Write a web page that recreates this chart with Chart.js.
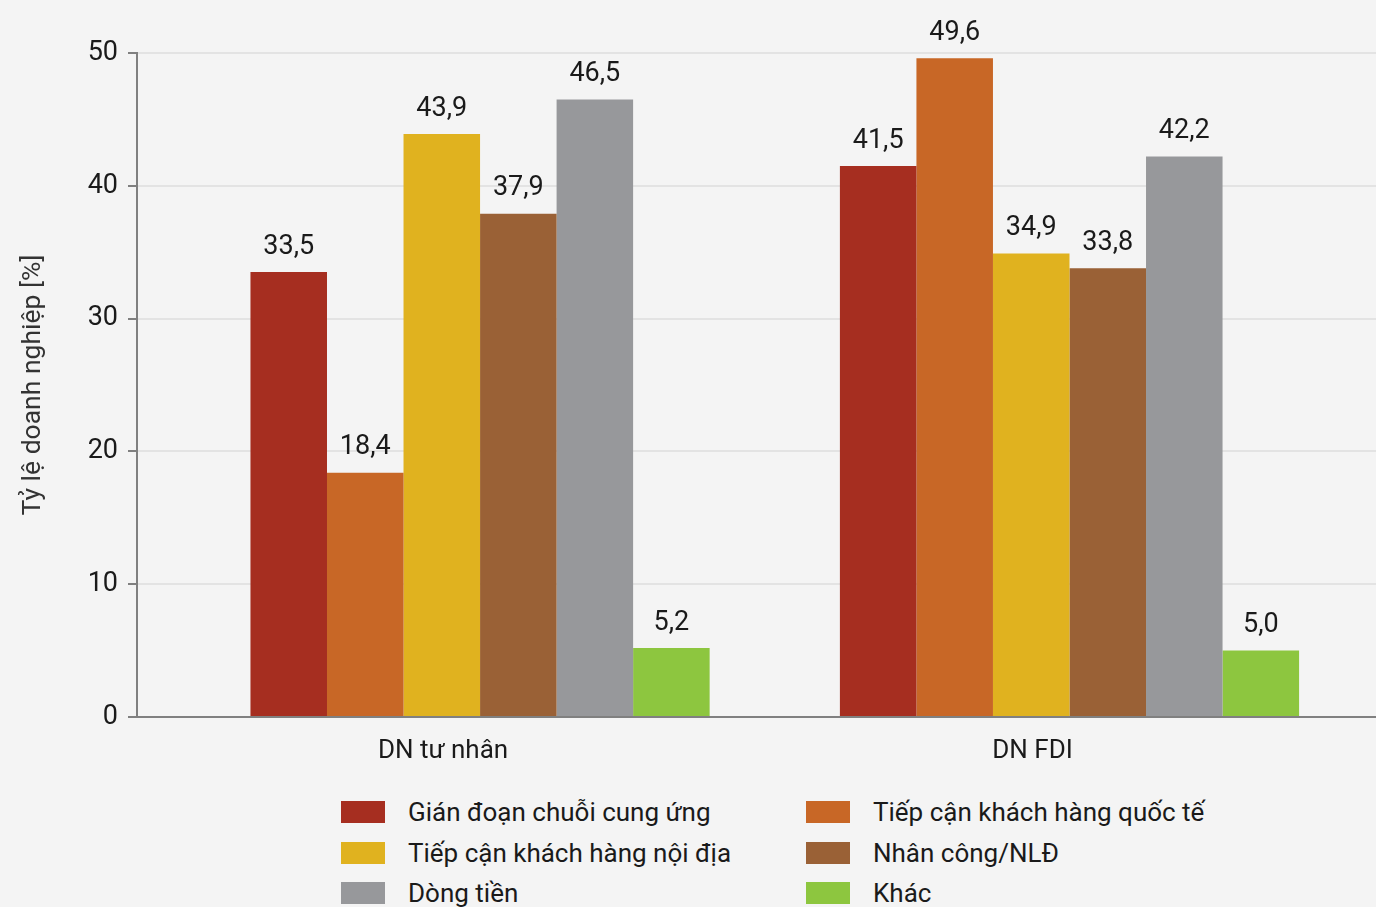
<!DOCTYPE html>
<html lang="vi">
<head>
<meta charset="UTF-8">
<title>Tỷ lệ doanh nghiệp</title>
<script src="https://cdn.jsdelivr.net/npm/chart.js"></script>
<style>
    html, body {
        margin: 0;
        padding: 0;
        background: #f4f4f4;
    }
    body {
        width: 1376px;
        height: 907px;
        overflow: hidden;
        position: relative;
    }
    #wrap {
        position: absolute;
        left: 0;
        top: 0;
        width: 1376px;
        height: 777px;
    }
    #legend {
        position: absolute;
        left: 341px;
        top: 792px;
        display: grid;
        grid-template-columns: 465px 420px;
    }
    .item {
        display: flex;
        align-items: center;
        height: 40.5px;
    }
    .box {
        flex: 0 0 44px;
        height: 22px;
        margin-right: 23px;
    }
    .txt {
        font: 26px Roboto, sans-serif;
        color: #1a1a1a;
        white-space: nowrap;
    }
</style>
</head>
<body>
<div id="wrap"><canvas id="chart"></canvas></div>
<div id="legend"></div>

<script>
    // categories and series (values in %)
    const categories = ['DN tư nhân', 'DN FDI'];
    const seriesNames = [
        'Gián đoạn chuỗi cung ứng',
        'Tiếp cận khách hàng quốc tế',
        'Tiếp cận khách hàng nội địa',
        'Nhân công/NLĐ',
        'Dòng tiền',
        'Khác'
    ];
    const gianDoan = [33.5, 41.5];
    const quocTe = [18.4, 49.6];
    const noiDia = [43.9, 34.9];
    const nhanCong = [37.9, 33.8];
    const dongTien = [46.5, 42.2];
    const khac = [5.2, 5.0];
    const yTicks = [0, 10, 20, 30, 40, 50];

    const seriesValues = [gianDoan, quocTe, noiDia, nhanCong, dongTien, khac];
    const colors = ['#a62e20', '#c86726', '#e0b21f', '#9a6136', '#97989b', '#8dc63f'];

    const fontFamily = 'Roboto, sans-serif';
    const fmt = v => v.toFixed(1).replace('.', ',');

    // value labels above bars
    const valueLabels = {
        id: 'valueLabels',
        afterDatasetsDraw(chart) {
            const ctx = chart.ctx;
            ctx.save();
            ctx.font = '27px ' + fontFamily;
            ctx.fillStyle = '#1a1a1a';
            ctx.textAlign = 'center';
            ctx.textBaseline = 'middle';
            chart.data.datasets.forEach((ds, i) => {
                chart.getDatasetMeta(i).data.forEach((bar, j) => {
                    ctx.fillText(fmt(ds.data[j].y), bar.x, bar.y - 25);
                });
            });
            ctx.restore();
        }
    };

    const datasets = seriesNames.map((name, i) => ({
        label: name,
        data: seriesValues[i].map((v, j) => ({ x: j, y: v })),
        backgroundColor: colors[i],
        borderWidth: 0
    }));

    new Chart(document.getElementById('chart'), {
        type: 'bar',
        data: { datasets },
        options: {
            responsive: true,
            maintainAspectRatio: false,
            animation: false,
            categoryPercentage: 0.779,
            barPercentage: 1,
            layout: { padding: { top: 53, left: 0, right: 0, bottom: 0 } },
            plugins: {
                legend: { display: false },
                tooltip: { enabled: false }
            },
            scales: {
                x: {
                    type: 'linear',
                    offset: false,
                    min: -0.582,
                    max: 1.52,
                    afterBuildTicks: axis => {
                        axis.ticks = categories.map((_, i) => ({ value: i }));
                    },
                    afterFit: axis => { axis.height = 60; },
                    grid: { display: false },
                    border: { display: true, color: '#808080', width: 2 },
                    ticks: {
                        callback: v => categories[v],
                        font: { family: fontFamily, size: 26 },
                        color: '#1a1a1a',
                        padding: 11,
                        labelOffset: -37,
                        autoSkip: false,
                        maxRotation: 0
                    }
                },
                y: {
                    min: 0,
                    max: 50,
                    afterBuildTicks: axis => {
                        axis.ticks = yTicks.map(v => ({ value: v }));
                    },
                    afterFit: axis => { axis.width = 137; },
                    grid: {
                        color: '#e3e3e3',
                        lineWidth: 2,
                        tickLength: 9,
                        tickColor: '#808080'
                    },
                    border: { color: '#808080', width: 2 },
                    ticks: {
                        font: { family: fontFamily, size: 27 },
                        color: '#1a1a1a',
                        padding: 10
                    },
                    title: {
                        display: true,
                        text: 'Tỷ lệ doanh nghiệp [%]',
                        font: { family: fontFamily, size: 26.5 },
                        color: '#333333',
                        padding: { top: 17, bottom: 0 }
                    }
                }
            }
        },
        plugins: [valueLabels]
    });

    // html legend in two columns
    const legend = document.getElementById('legend');
    seriesNames.forEach((name, i) => {
        const item = document.createElement('div');
        item.className = 'item';
        item.innerHTML = '<span class="box" style="background:' + colors[i] + '"></span><span class="txt">' + name + '</span>';
        legend.appendChild(item);
    });
</script>
</body>
</html>
